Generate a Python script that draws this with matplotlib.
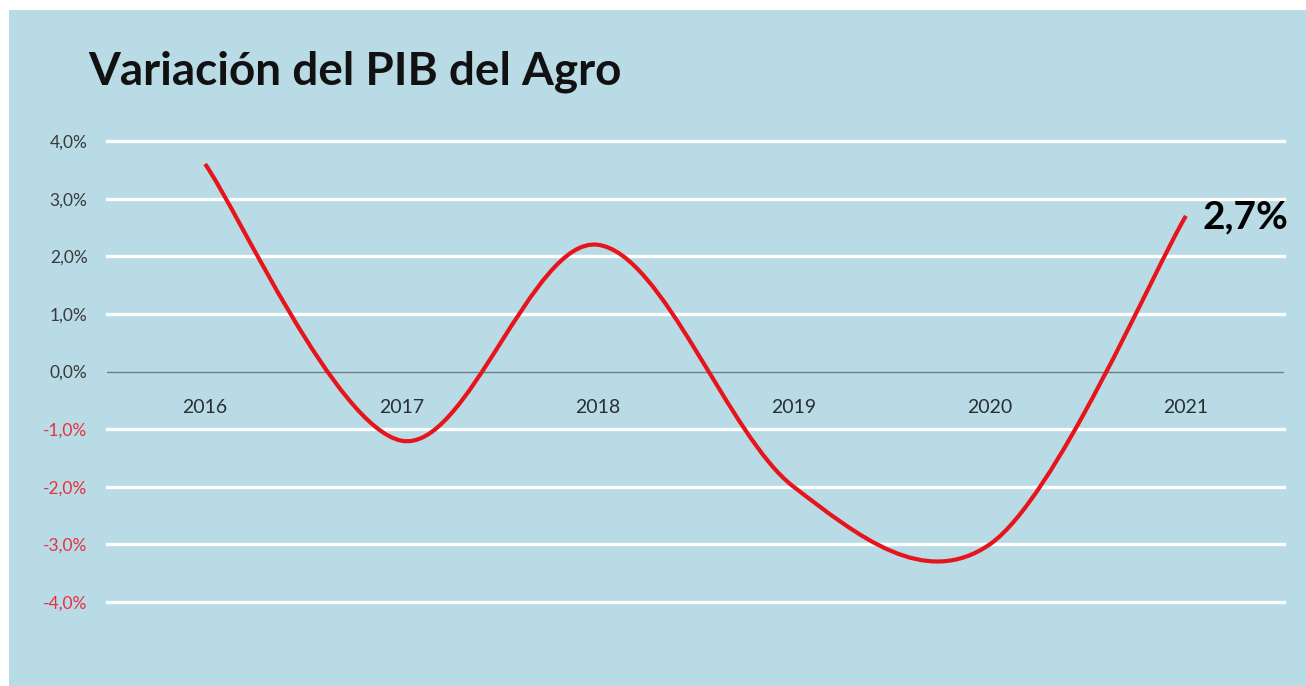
import numpy as np
import matplotlib
matplotlib.use("Agg")
import matplotlib.pyplot as plt
from matplotlib.path import Path
from matplotlib.patches import PathPatch, Rectangle

# data
years = ["2016", "2017", "2018", "2019", "2020", "2021"]
pib_agro = [3.6, -1.2, 2.2, -2.0, -3.0, 2.7]
y_ticks = [4, 3, 2, 1, 0, -1, -2, -3, -4]
last_label = "2,7%"
title = "Variación del PIB del Agro"

BG = "#b8dbe6"
RED = "#e8141c"
FONT = "Lato"


def smooth_path(xs, ys):
    """Excel-like smoothed line: cubic bezier through every point."""
    pts = np.column_stack([xs, ys]).astype(float)
    n = len(pts)
    verts = [pts[0]]
    codes = [Path.MOVETO]
    for i in range(n - 1):
        p_prev = pts[i - 1] if i > 0 else pts[i]
        p_next = pts[i + 2] if i + 2 < n else pts[i + 1]
        c1 = pts[i] + (pts[i + 1] - p_prev) / 6
        c2 = pts[i + 1] - (p_next - pts[i]) / 6
        verts += [c1, c2, pts[i + 1]]
        codes += [Path.CURVE4] * 3
    return Path(verts, codes)


def fmt_pct(v):
    return f"{v:.1f}%".replace(".", ",")


fig = plt.figure(figsize=(13.06, 6.86), dpi=100)
fig.patch.set_facecolor("white")
fig.add_artist(Rectangle((9 / 1306, 0), 1, 1 - 10 / 686, transform=fig.transFigure,
                         facecolor=BG, edgecolor="none", zorder=0))

ax = fig.add_axes([107 / 1306, 1 - 602 / 686, 1177 / 1306, 461 / 686])
ax.set_facecolor("none")
x = np.arange(len(years))
ax.set_xlim(-0.5, len(years) - 0.5)
ax.set_ylim(-4, 4)

# gridlines
for t in y_ticks:
    if t != 0:
        ax.axhline(t, color="white", lw=2.4, zorder=1, clip_on=False)
ax.axhline(0, color="#6e8086", lw=1, zorder=1)

for s in ax.spines.values():
    s.set_visible(False)

ax.set_yticks(y_ticks)
ax.set_yticklabels([fmt_pct(t) for t in y_ticks], fontsize=12.5, family=FONT)
for lbl, t in zip(ax.get_yticklabels(), y_ticks):
    lbl.set_color("#e8303f" if t < 0 else "#3a3a3a")
ax.tick_params(axis="y", length=0, pad=14)

ax.set_xticks([])
for xi, yr in zip(x, years):
    ax.annotate(yr, (xi, 0), xytext=(0, -26), textcoords="offset points",
                ha="center", va="center", fontsize=14, family=FONT, color="#2a2f33")

line = PathPatch(smooth_path(x, pib_agro), fill=False, edgecolor=RED, lw=3,
                 capstyle="butt", zorder=3, clip_on=False)
ax.add_patch(line)

ax.annotate(last_label, (x[-1], pib_agro[-1]), xytext=(12, -1), textcoords="offset points",
            ha="left", va="center", fontsize=28, fontweight="bold", family=FONT, color="black")

fig.text(88 / 1306, 1 - 72 / 686, title, fontsize=33, fontweight="bold", family=FONT,
         color="#111111", ha="left", va="center")

fig.savefig("out.png", dpi=100)
